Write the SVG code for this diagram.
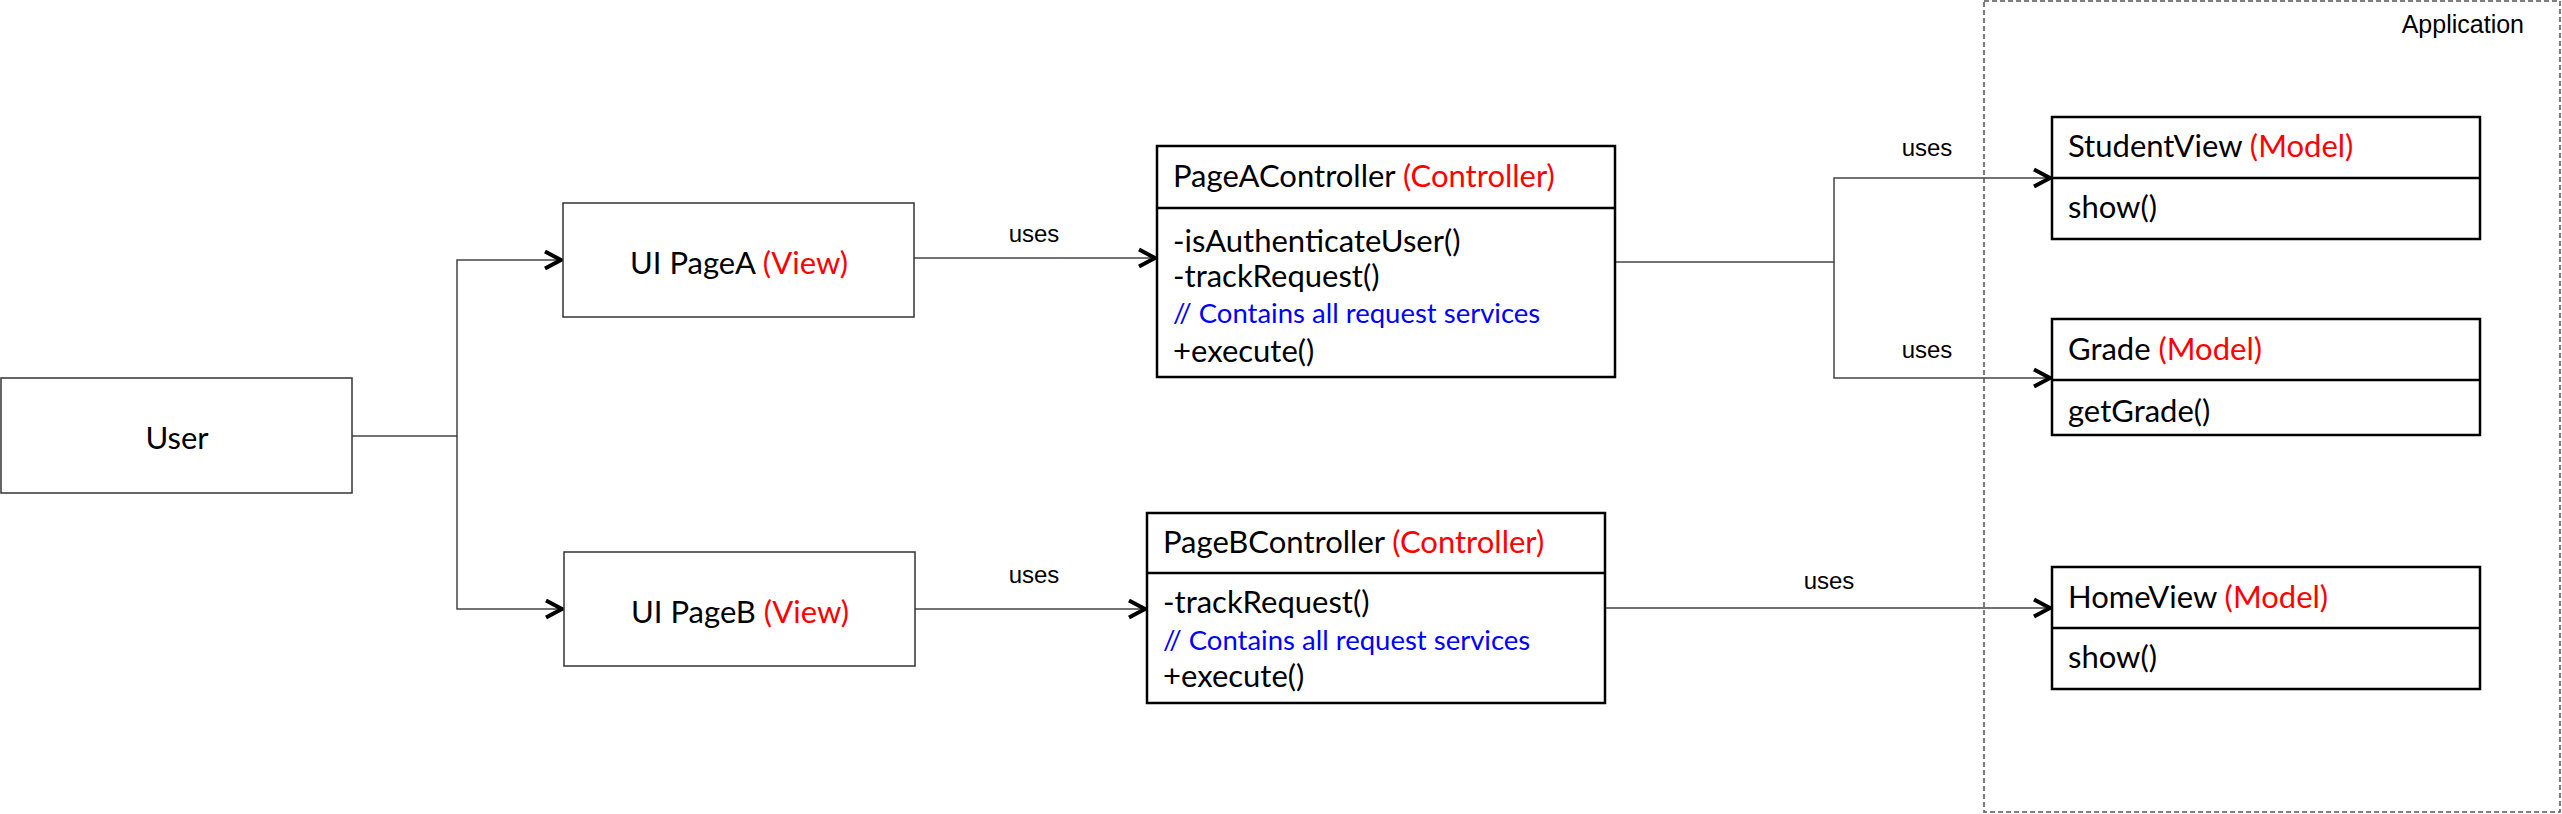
<svg xmlns="http://www.w3.org/2000/svg" width="2562" height="814" viewBox="0 0 2562 814">
<style>
.box{fill:#fff;stroke:#333;stroke-width:1.5}
.cls{fill:#fff;stroke:#000;stroke-width:2.5}
.div{stroke:#000;stroke-width:2.5}
.t{font-family:Lato,"Open Sans",sans-serif;font-size:31px;fill:#000}
.cm{font-size:27.5px;fill:#0000ff}
.r{fill:#ff0000}
.lbl{font-family:"Liberation Sans",Arial,sans-serif;font-size:24px;fill:#000}
.app{font-size:25px}
.conn{fill:none;stroke:#444;stroke-width:1.5}
.cont{fill:none;stroke:#555;stroke-width:1.5;stroke-dasharray:5 3}
</style>
<defs>
<marker id="arr" markerUnits="userSpaceOnUse" markerWidth="24" markerHeight="24" viewBox="0 0 24 24" refX="21" refY="12" orient="auto">
<path d="M3,3.5 L19,12 L3,20.5" fill="none" stroke="#000" stroke-width="4"/>
</marker>
</defs>
<g id="application">
<rect class="cont" x="1984" y="1" width="576" height="811"/>
<text class="lbl app" x="2524" y="33" text-anchor="end">Application</text>
</g>
<g id="connectors">
<path class="conn" d="M352,436 H457 V260 H563" marker-end="url(#arr)"/>
<path class="conn" d="M457,436 V609 H564" marker-end="url(#arr)"/>
<path class="conn" d="M914,258 H1157" marker-end="url(#arr)"/>
<text class="lbl" x="1034" y="242" text-anchor="middle">uses</text>
<path class="conn" d="M915,609 H1147" marker-end="url(#arr)"/>
<text class="lbl" x="1034" y="583" text-anchor="middle">uses</text>
<path class="conn" d="M1615,262 H1834 V178 H2052" marker-end="url(#arr)"/>
<text class="lbl" x="1927" y="156" text-anchor="middle">uses</text>
<path class="conn" d="M1834,262 V378 H2052" marker-end="url(#arr)"/>
<text class="lbl" x="1927" y="358" text-anchor="middle">uses</text>
<path class="conn" d="M1605,608 H2052" marker-end="url(#arr)"/>
<text class="lbl" x="1829" y="589" text-anchor="middle">uses</text>
</g>
<g id="user">
<rect class="box" x="1" y="378" width="351" height="115"/>
<text class="t" x="177" y="449" text-anchor="middle">User</text>
</g>
<g id="uiPageA">
<rect class="box" x="563" y="203" width="351" height="114"/>
<text class="t" x="739" y="274" text-anchor="middle">UI PageA <tspan class="r">(View)</tspan></text>
</g>
<g id="uiPageB">
<rect class="box" x="564" y="552" width="351" height="114"/>
<text class="t" x="740" y="623" text-anchor="middle">UI PageB <tspan class="r">(View)</tspan></text>
</g>
<g id="pageAController">
<rect class="cls" x="1157" y="146" width="458" height="231"/>
<line class="div" x1="1157" y1="208" x2="1615" y2="208"/>
<text class="t" x="1173" y="187">PageAController <tspan class="r">(Controller)</tspan></text>
<text class="t" x="1173" y="252">-isAuthenticateUser()</text>
<text class="t" x="1173" y="287">-trackRequest()</text>
<text class="t cm" x="1173" y="323">// Contains all request services</text>
<text class="t" x="1173" y="362">+execute()</text>
</g>
<g id="pageBController">
<rect class="cls" x="1147" y="513" width="458" height="190"/>
<line class="div" x1="1147" y1="573" x2="1605" y2="573"/>
<text class="t" x="1163" y="553">PageBController <tspan class="r">(Controller)</tspan></text>
<text class="t" x="1163" y="613">-trackRequest()</text>
<text class="t cm" x="1163" y="650">// Contains all request services</text>
<text class="t" x="1163" y="687">+execute()</text>
</g>
<g id="studentView">
<rect class="cls" x="2052" y="117" width="428" height="122"/>
<line class="div" x1="2052" y1="178" x2="2480" y2="178"/>
<text class="t" x="2068" y="157">StudentView <tspan class="r">(Model)</tspan></text>
<text class="t" x="2068" y="218">show()</text>
</g>
<g id="grade">
<rect class="cls" x="2052" y="319" width="428" height="116"/>
<line class="div" x1="2052" y1="380" x2="2480" y2="380"/>
<text class="t" x="2068" y="360">Grade <tspan class="r">(Model)</tspan></text>
<text class="t" x="2068" y="422">getGrade()</text>
</g>
<g id="homeView">
<rect class="cls" x="2052" y="567" width="428" height="122"/>
<line class="div" x1="2052" y1="628" x2="2480" y2="628"/>
<text class="t" x="2068" y="608">HomeView <tspan class="r">(Model)</tspan></text>
<text class="t" x="2068" y="668">show()</text>
</g>
</svg>
